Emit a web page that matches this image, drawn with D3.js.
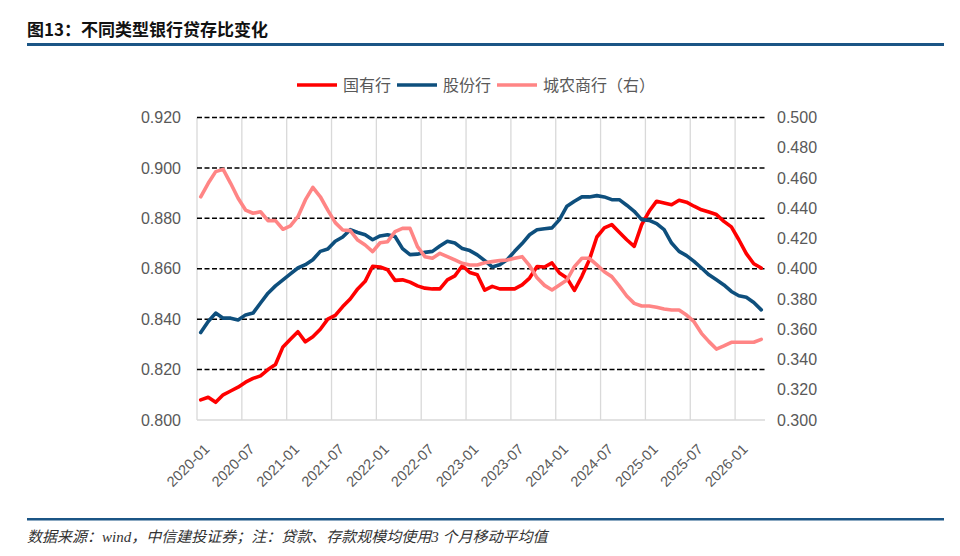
<!DOCTYPE html>
<html>
<head>
<meta charset="utf-8">
<script src="https://cdn.jsdelivr.net/npm/d3@7"></script>
<style>
  body { margin: 0; background: #fff; }
  svg { display: block; }
</style>
</head>
<body>
<div id="chart"></div>
<script>
// monthly categories 2020-01 .. 2026-04
const months = d3.timeMonths(new Date(2020, 0, 1), new Date(2026, 4, 1)).map(d3.timeFormat("%Y-%m"));
const tickLabels = ["2020-01", "2020-07", "2021-01", "2021-07", "2022-01", "2022-07", "2023-01",
    "2023-07", "2024-01", "2024-07", "2025-01", "2025-07", "2026-01"];
const leftTicks = [0.800, 0.820, 0.840, 0.860, 0.880, 0.900, 0.920];
const rightTicks = [0.300, 0.320, 0.340, 0.360, 0.380, 0.400, 0.420, 0.440, 0.460, 0.480, 0.500];

// 国有行 (left axis)
const stateOwned = [0.808, 0.809, 0.807, 0.810, 0.8115, 0.813, 0.815, 0.8165, 0.8175, 0.820,
    0.822, 0.829, 0.832, 0.835, 0.831, 0.833, 0.836, 0.840, 0.8415, 0.845,
    0.848, 0.852, 0.855, 0.861, 0.8607, 0.8596, 0.8554, 0.8556, 0.8547, 0.8532,
    0.8523, 0.852, 0.852, 0.8556, 0.8572, 0.8612, 0.8585, 0.8576, 0.8515, 0.853,
    0.852, 0.852, 0.852, 0.8536, 0.8563, 0.8609, 0.8607, 0.8623, 0.8583, 0.8563,
    0.8514, 0.857, 0.8636, 0.8726, 0.8762, 0.8775, 0.8745, 0.8715, 0.8689, 0.8775,
    0.8828, 0.8868, 0.8861, 0.8854, 0.8872, 0.8864, 0.8848, 0.8834, 0.8825, 0.8815,
    0.8788, 0.8766, 0.8715, 0.866, 0.862, 0.8603];

// 股份行 (left axis)
const jointStock = [0.8347, 0.8391, 0.8424, 0.8404, 0.8404, 0.8397, 0.8417, 0.8424, 0.8464, 0.8503,
    0.8532, 0.8556, 0.858, 0.8603, 0.8616, 0.8636, 0.8669, 0.8678, 0.8709, 0.8726,
    0.8755, 0.8744, 0.8735, 0.8715, 0.873, 0.8735, 0.8728, 0.868, 0.8656, 0.8658,
    0.8665, 0.8669, 0.869, 0.8709, 0.8702, 0.868, 0.8672, 0.8655, 0.8632, 0.8607,
    0.8616, 0.8636, 0.8669, 0.870, 0.8735, 0.8755, 0.8759, 0.8762, 0.8795, 0.8848,
    0.8868, 0.8885, 0.8885, 0.889, 0.8885, 0.8874, 0.8874, 0.8852, 0.8828, 0.8795,
    0.8792, 0.8779, 0.8755, 0.8702, 0.8669, 0.8652, 0.8629, 0.8603, 0.8576, 0.8556,
    0.8536, 0.851, 0.8493, 0.8487, 0.8466, 0.8437];

// 城农商行 (right axis)
const cityRural = [0.4476, 0.4565, 0.4642, 0.4657, 0.4565, 0.4466, 0.4388, 0.4367, 0.4377, 0.4318,
    0.4318, 0.4261, 0.4283, 0.4344, 0.4455, 0.4538, 0.4476, 0.4388, 0.4305, 0.4256,
    0.4252, 0.419, 0.4157, 0.4113, 0.4172, 0.4179, 0.4245, 0.4267, 0.4267, 0.4146,
    0.408, 0.4069, 0.4102, 0.408, 0.4058, 0.4036, 0.4025, 0.4025, 0.404, 0.4047,
    0.4054, 0.4058, 0.4069, 0.408, 0.402, 0.394, 0.389, 0.386, 0.3893, 0.3926,
    0.4014, 0.4069, 0.4069, 0.4025, 0.398, 0.3948, 0.3887, 0.382, 0.3771, 0.3754,
    0.3754, 0.3745, 0.3734, 0.3727, 0.3727, 0.3694, 0.365, 0.3573, 0.3518, 0.3469,
    0.349, 0.3514, 0.3514, 0.3514, 0.3514, 0.3533];

const width = 960, height = 556;
const plotLeft = 197, plotRight = 765, plotTop = 117.5, plotBottom = 420;
const textGrey = "#595959";

const svg = d3.select("#chart").append("svg")
    .attr("width", width)
    .attr("height", height)
    .attr("viewBox", [0, 0, width, height]);

// title + rules
svg.append("text")
    .attr("x", 27).attr("y", 36)
    .attr("font-family", "'Noto Sans CJK SC', sans-serif")
    .attr("font-weight", "bold")
    .attr("font-size", 17)
    .attr("fill", "#111")
    .text("图13：不同类型银行贷存比变化");
svg.append("rect").attr("x", 27).attr("y", 43).attr("width", 917).attr("height", 3).attr("fill", "#1b5585");
svg.append("rect").attr("x", 27).attr("y", 518).attr("width", 917).attr("height", 2.5).attr("fill", "#1b5585");
svg.append("text")
    .attr("x", 27).attr("y", 542)
    .attr("font-family", "'Liberation Serif', 'Noto Sans CJK SC', serif")
    .attr("font-style", "italic")
    .attr("font-size", 15)
    .attr("fill", "#333")
    .text("数据来源：wind，中信建投证券；注：贷款、存款规模均使用3 个月移动平均值");

const x = d3.scaleBand().domain(d3.range(months.length)).range([plotLeft, plotRight]);
const xc = i => x(i) + x.bandwidth() / 2;
const yL = d3.scaleLinear().domain([0.8, 0.92]).range([plotBottom, plotTop]);
const yR = d3.scaleLinear().domain([0.3, 0.5]).range([plotBottom, plotTop]);

// vertical gridlines every 6 months
const tickIdx = tickLabels.map(t => months.indexOf(t));
svg.append("g").selectAll("line")
    .data(tickIdx)
    .join("line")
    .attr("x1", d => x(d)).attr("x2", d => x(d))
    .attr("y1", plotTop).attr("y2", plotBottom)
    .attr("stroke", "#d9d9d9")
    .attr("stroke-width", 1.3);

// horizontal dashed gridlines
svg.append("g").selectAll("line")
    .data(leftTicks.slice(1))
    .join("line")
    .attr("x1", plotLeft).attr("x2", plotRight)
    .attr("y1", d => yL(d)).attr("y2", d => yL(d))
    .attr("stroke", "#000")
    .attr("stroke-width", 1.5)
    .attr("stroke-dasharray", "5,2.5");

// bottom axis line
svg.append("line")
    .attr("x1", plotLeft).attr("x2", plotRight)
    .attr("y1", plotBottom).attr("y2", plotBottom)
    .attr("stroke", "#d9d9d9")
    .attr("stroke-width", 1.5);

// y axis labels
const axisL = svg.append("g")
    .attr("transform", `translate(${plotLeft - 13},0)`)
    .call(d3.axisLeft(yL).tickValues(leftTicks).tickFormat(d3.format(".3f")).tickSize(0));
axisL.select(".domain").remove();

const axisR = svg.append("g")
    .attr("transform", `translate(${plotRight + 9},0)`)
    .call(d3.axisRight(yR).tickValues(rightTicks).tickFormat(d3.format(".3f")).tickSize(0));
axisR.select(".domain").remove();

svg.selectAll(".tick text")
    .attr("font-family", "'Liberation Sans', Arial, sans-serif")
    .attr("font-size", 16)
    .attr("fill", textGrey);

// x labels
svg.append("g").selectAll("text")
    .data(tickIdx)
    .join("text")
    .attr("transform", d => `translate(${x(d) + 13.5},450) rotate(-45)`)
    .attr("text-anchor", "end")
    .attr("font-family", "'Liberation Sans', Arial, sans-serif")
    .attr("font-size", 14.5)
    .attr("fill", textGrey)
    .text(d => months[d]);

// series
const series = [
    {name: "国有行", values: stateOwned, y: yL, color: "#ff0000"},
    {name: "股份行", values: jointStock, y: yL, color: "#0e4f7d"},
    {name: "城农商行（右）", values: cityRural, y: yR, color: "#ff8585"}
];

for (let s of series) {
    const line = d3.line()
        .x((d, i) => xc(i))
        .y(d => s.y(d));
    svg.append("path")
        .datum(s.values)
        .attr("d", line)
        .attr("fill", "none")
        .attr("stroke", s.color)
        .attr("stroke-width", 3.6)
        .attr("stroke-linejoin", "round")
        .attr("stroke-linecap", "round");
}

// legend
const legendX = [297, 397, 497];
const legend = svg.append("g");
series.forEach((s, i) => {
    legend.append("line")
        .attr("x1", legendX[i]).attr("x2", legendX[i] + 40)
        .attr("y1", 85).attr("y2", 85)
        .attr("stroke", s.color)
        .attr("stroke-width", 3.6);
    legend.append("text")
        .attr("x", legendX[i] + 46).attr("y", 91)
        .attr("font-family", "'Noto Sans CJK SC', sans-serif")
        .attr("font-size", 16)
        .attr("fill", textGrey)
        .text(s.name);
});
</script>
</body>
</html>
